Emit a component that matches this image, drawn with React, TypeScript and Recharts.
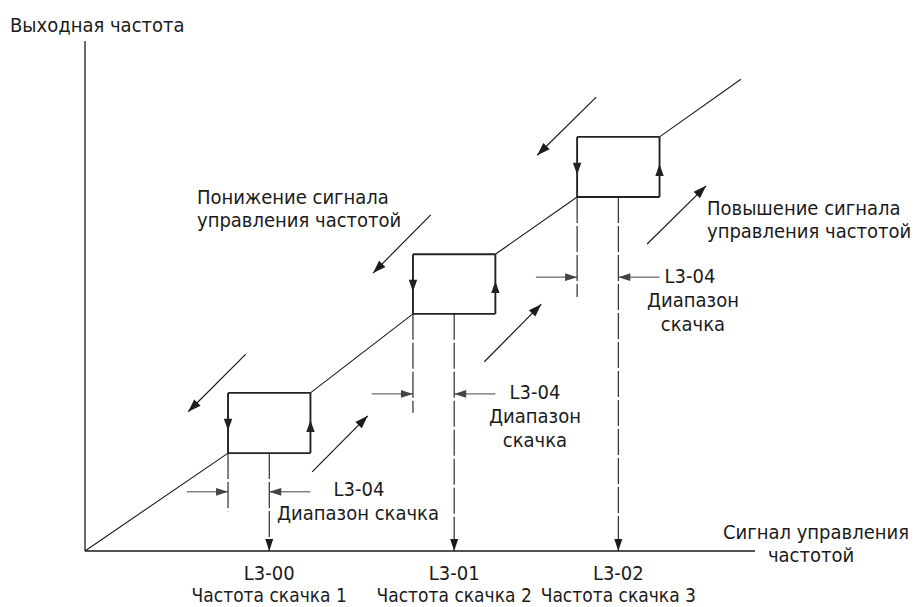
import { ComposedChart, Line, XAxis, YAxis, ReferenceLine } from "recharts";

// jump frequencies (control signal axis, 0..100) and their codes
const jumpCodes = ["L3-00", "L3-01", "L3-02"];
const jumpNames = ["Частота скачка 1", "Частота скачка 2", "Частота скачка 3"];
const jumpFreq = [27.5, 55.1, 79.6];
const jumpBand = 6.15; // L3-04, each side of the jump frequency

// output frequency (0..100) at the bottom / top of each jump
const outBelow = [19.2, 46.5, 69.4];
const outAbove = [31.0, 58.2, 81.2];
const rampEnd = [97.9, 92.5];

// L3-04 dimension arrows: height and where the left guide stops
const bandLevel = [11.6, 30.8, 53.7];
const bandGuideEnd = [7.8, 27.1, 49.8];

// direction arrows [x1, y1, x2, y2]
const fallArrows = [
  [24.0, 38.6, 15.4, 27.3],
  [51.6, 65.9, 43.0, 54.5],
  [76.3, 89.0, 67.5, 77.6],
];
const riseArrows = [
  [33.9, 15.5, 42.2, 26.5],
  [59.6, 37.1, 68.1, 48.4],
  [83.9, 60.2, 92.7, 71.6],
];

const rampData: { x: number; y: number | null }[] = [{ x: 0, y: 0 }];
jumpFreq.forEach((c, i) => {
  rampData.push({ x: c - jumpBand, y: outBelow[i] });
  rampData.push({ x: c, y: null });
  rampData.push({ x: c + jumpBand, y: outAbove[i] });
});
rampData.push({ x: rampEnd[0], y: rampEnd[1] });

const FONT = "'Liberation Sans Narrow', 'DejaVu Sans Condensed', Roboto, sans-serif";
const INK = "#1b1b1b";

type SegStyle = {
  w: number;
  color?: string;
  dash?: string;
  tip?: number;
  head?: [number, number];
};

const makeShape = (s: SegStyle) => (p: any) => {
  const { x1, y1, x2, y2 } = p;
  const color = s.color ?? INK;
  const dx = x2 - x1;
  const dy = y2 - y1;
  const len = Math.hypot(dx, dy) || 1;
  const ux = dx / len;
  const uy = dy / len;
  let poly = null;
  if (s.head) {
    const [hl, hw] = s.head;
    const t = s.tip ?? 1;
    const tx = x1 + dx * t;
    const ty = y1 + dy * t;
    const bx = tx - ux * hl;
    const by = ty - uy * hl;
    poly = (
      <polygon
        points={`${tx},${ty} ${bx - uy * hw},${by + ux * hw} ${bx + uy * hw},${by - ux * hw}`}
        fill={color}
      />
    );
  }
  return (
    <g>
      <line x1={x1} y1={y1} x2={x2} y2={y2} stroke={color} strokeWidth={s.w} strokeDasharray={s.dash} />
      {poly}
    </g>
  );
};

function seg(key: string, a: number[], b: number[], s: SegStyle) {
  return (
    <ReferenceLine
      key={key}
      segment={[
        { x: a[0], y: a[1] },
        { x: b[0], y: b[1] },
      ]}
      ifOverflow="visible"
      shape={makeShape(s)}
    />
  );
}

const texts: { t: string; x: number; y: number; a?: "start" | "middle" | "end" }[] = [
  { t: "Выходная частота", x: 10, y: 32 },
  { t: "Понижение сигнала", x: 197, y: 204 },
  { t: "управления частотой", x: 197, y: 227 },
  { t: "Повышение сигнала", x: 707, y: 215 },
  { t: "управления частотой", x: 707, y: 238 },
  { t: "Сигнал управления", x: 816, y: 539, a: "middle" },
  { t: "частотой", x: 811, y: 562, a: "middle" },
  { t: "L3-04", x: 359, y: 496, a: "middle" },
  { t: "Диапазон скачка", x: 358, y: 520, a: "middle" },
  { t: "L3-04", x: 535, y: 399, a: "middle" },
  { t: "Диапазон", x: 535, y: 423, a: "middle" },
  { t: "скачка", x: 535, y: 447, a: "middle" },
  { t: "L3-04", x: 690, y: 283, a: "middle" },
  { t: "Диапазон", x: 693, y: 307, a: "middle" },
  { t: "скачка", x: 693, y: 331, a: "middle" },
];

function JumpTick(props: any) {
  const { x, y, payload } = props;
  const i = jumpFreq.indexOf(payload.value);
  return (
    <g fontFamily={FONT} fill={INK}>
      <text x={x} y={y + 29} textAnchor="middle" fontSize={20}>
        {jumpCodes[i]}
      </text>
      <text x={x} y={y + 51} textAnchor="middle" fontSize={19}>
        {jumpNames[i]}
      </text>
    </g>
  );
}

export default function App() {
  const lines: any[] = [];
  jumpFreq.forEach((c, i) => {
    const L = c - jumpBand;
    const R = c + jumpBand;
    const B = outBelow[i];
    const T = outAbove[i];
    const box = { w: 1.9, color: "#222" };
    lines.push(seg(`top${i}`, [L, T], [R, T], box));
    lines.push(seg(`bot${i}`, [L, B], [R, B], box));
    lines.push(seg(`left${i}`, [L, T], [L, B], { ...box, tip: 0.63, head: [12, 4.2] }));
    lines.push(seg(`right${i}`, [R, B], [R, T], { ...box, tip: 0.55, head: [12, 4.2] }));
    // guides
    lines.push(seg(`gl${i}`, [L, B], [L, bandGuideEnd[i]], { w: 1.1, dash: "26 3" }));
    lines.push(seg(`gc${i}`, [c, B], [c, 0], { w: 1.1, dash: "26 3", head: [12, 4] }));
    // L3-04 dimension
    lines.push(seg(`dl${i}`, [L - jumpBand, bandLevel[i]], [L, bandLevel[i]], { w: 1, color: "#444", head: [12, 3.8] }));
    lines.push(seg(`dr${i}`, [R, bandLevel[i]], [c, bandLevel[i]], { w: 1, color: "#444", head: [12, 3.8] }));
  });
  fallArrows.forEach((a, i) =>
    lines.push(seg(`fall${i}`, [a[0], a[1]], [a[2], a[3]], { w: 1.2, head: [13, 4.5] }))
  );
  riseArrows.forEach((a, i) =>
    lines.push(seg(`rise${i}`, [a[0], a[1]], [a[2], a[3]], { w: 1.2, head: [13, 4.5] }))
  );

  return (
    <div style={{ position: "absolute", left: 0, top: 0, width: 915, height: 607, background: "#fff" }}>
      <ComposedChart
        width={915}
        height={607}
        data={rampData}
        margin={{ top: 41, right: 160, bottom: 0, left: 75 }}
      >
        <XAxis
          dataKey="x"
          type="number"
          domain={[0, 100]}
          ticks={jumpFreq}
          interval={0}
          tick={JumpTick}
          tickLine={false}
          tickSize={0}
          tickMargin={0}
          height={56}
          axisLine={{ stroke: INK, strokeWidth: 1.3 }}
        />
        <YAxis
          type="number"
          domain={[0, 100]}
          tick={false}
          tickLine={false}
          width={10}
          axisLine={{ stroke: INK, strokeWidth: 1.3 }}
        />
        <Line
          dataKey="y"
          type="linear"
          stroke={INK}
          strokeWidth={1.1}
          dot={false}
          activeDot={false}
          connectNulls={false}
          isAnimationActive={false}
        />
        {lines}
      </ComposedChart>
      <svg
        width={915}
        height={607}
        style={{ position: "absolute", left: 0, top: 0, pointerEvents: "none" }}
      >
        <g fontFamily={FONT} fontSize={20} fill={INK}>
          {texts.map((d, i) => (
            <text key={i} x={d.x} y={d.y} textAnchor={d.a ?? "start"}>
              {d.t}
            </text>
          ))}
        </g>
      </svg>
    </div>
  );
}
